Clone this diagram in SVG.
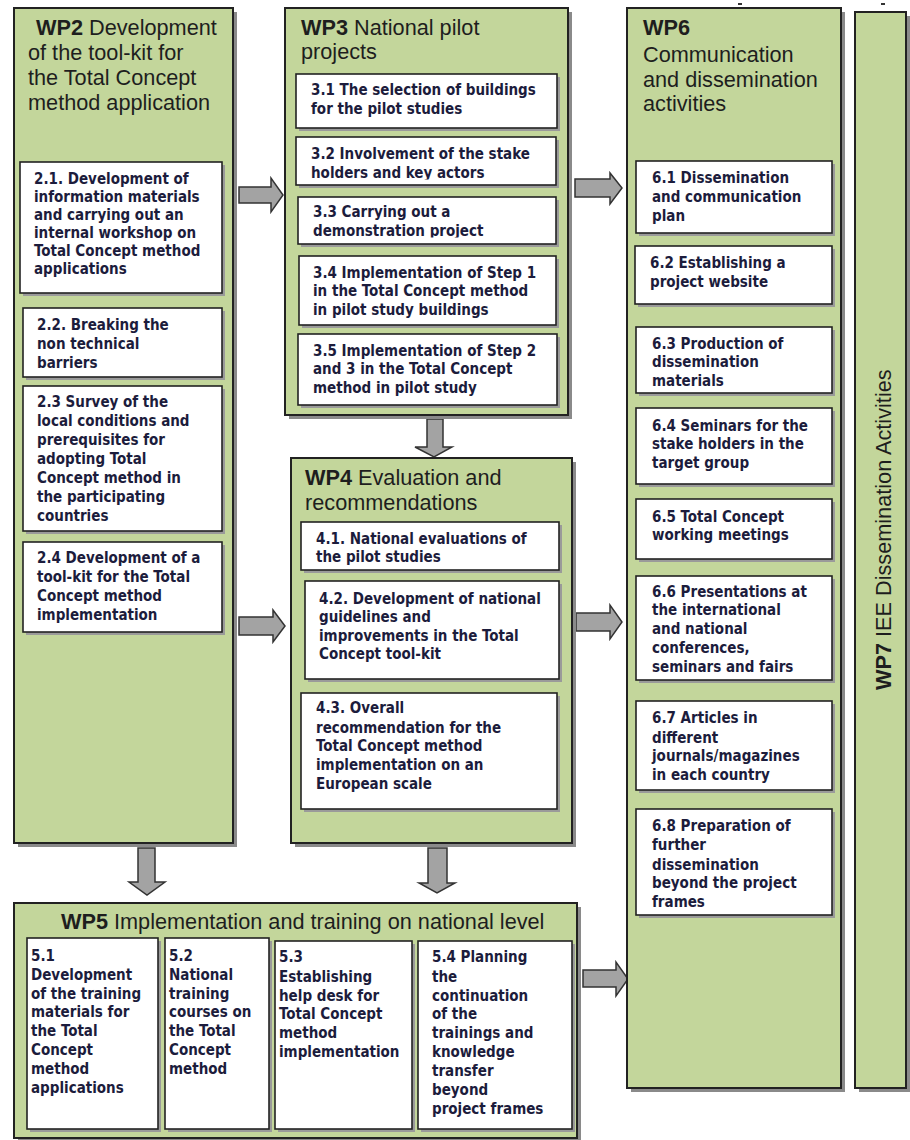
<svg xmlns="http://www.w3.org/2000/svg" width="910" height="1140" viewBox="0 0 910 1140">
<style>
.wp{fill:#c3d69b;stroke:#222;stroke-width:2}
.sh{fill:#8a8a8a}
.bx{fill:#fff;stroke:#222;stroke-width:1.6}
.bsh{fill:#9a9a9a}
.ar{fill:#a3a3a3;stroke:#333;stroke-width:1.5;stroke-linejoin:miter}
.t{font-family:"Liberation Sans",Arial,sans-serif;font-size:21.7px;fill:#1e1e1e}
.b{font-weight:bold}
.i{font-family:"DejaVu Sans Condensed","DejaVu Sans",sans-serif;font-stretch:condensed;font-size:15px;font-weight:bold;fill:#1c1c3c}
</style>
<defs>
<clipPath id="c32"><rect x="296" y="137" width="260" height="42.5"/></clipPath>
<clipPath id="c33"><rect x="298" y="197" width="258" height="40.5"/></clipPath>
</defs>
<rect x="738" y="3" width="4" height="2" fill="#333"/>
<rect x="881" y="3" width="4" height="2" fill="#333"/>
<g id="connectors">
<path class="ar" d="M239,187 H271 V178 L283,195 L271,212 V203 H239 Z"/>
<path class="ar" d="M239,617 H273 V610 L285,626 L273,642 V635 H239 Z"/>
<path class="ar" d="M575,179 H610 V173 L622,188 L610,204 V197 H575 Z"/>
<path class="ar" d="M576,613 H610 V605 L622,622 L610,639 V631 H576 Z"/>
<path class="ar" d="M583,970 H616 V962 L628,979 L616,996 V987 H583 Z"/>
<path class="ar" d="M427,419 H443 V447 H452 L434,457 L415,447 H427 Z"/>
<path class="ar" d="M138,848 H155 V882 H165 L147,895 L129,882 H138 Z"/>
<path class="ar" d="M428,848 H447 V883 H455 L437,893 L419,883 H428 Z"/>
</g>
<g id="wp2">
<rect class="sh" x="18" y="12" width="219" height="835"/>
<rect class="wp" x="14" y="8" width="219" height="835"/>
<text class="t"><tspan x="36" y="35"><tspan class="b">WP2</tspan> Development</tspan><tspan x="28" y="60">of the tool-kit for</tspan><tspan x="28" y="85">the Total Concept</tspan><tspan x="28" y="110">method application</tspan></text>
</g>
<g id="b21"><rect class="bsh" x="23" y="165" width="202" height="131"/><rect class="bx" x="20" y="162" width="202" height="131"/>
<text class="i"><tspan x="34" y="184">2.1. Development of</tspan><tspan x="34" y="202">information materials</tspan><tspan x="34" y="220">and carrying out an</tspan><tspan x="34" y="238">internal workshop on</tspan><tspan x="34" y="256">Total Concept method</tspan><tspan x="34" y="274">applications</tspan></text></g>
<g id="b22"><rect class="bsh" x="26" y="311" width="199" height="69"/><rect class="bx" x="23" y="308" width="199" height="69"/>
<text class="i"><tspan x="37" y="330">2.2. Breaking the</tspan><tspan x="37" y="349">non technical</tspan><tspan x="37" y="368">barriers</tspan></text></g>
<g id="b23"><rect class="bsh" x="26" y="389" width="199" height="145"/><rect class="bx" x="23" y="386" width="199" height="145"/>
<text class="i"><tspan x="37" y="407">2.3 Survey of the</tspan><tspan x="37" y="426">local conditions and</tspan><tspan x="37" y="445">prerequisites for</tspan><tspan x="37" y="464">adopting Total</tspan><tspan x="37" y="483">Concept method in</tspan><tspan x="37" y="502">the participating</tspan><tspan x="37" y="521">countries</tspan></text></g>
<g id="b24"><rect class="bsh" x="26" y="545" width="199" height="90"/><rect class="bx" x="23" y="542" width="199" height="90"/>
<text class="i"><tspan x="37" y="563">2.4 Development of a</tspan><tspan x="37" y="582">tool-kit for the Total</tspan><tspan x="37" y="601">Concept method</tspan><tspan x="37" y="620">implementation</tspan></text></g>
<g id="wp3">
<rect class="sh" x="289" y="12" width="283" height="407"/>
<rect class="wp" x="285" y="8" width="283" height="407"/>
<text class="t"><tspan x="301" y="35"><tspan class="b">WP3</tspan> National pilot</tspan><tspan x="301" y="59">projects</tspan></text>
</g>
<g id="b31"><rect class="bsh" x="299" y="77" width="261" height="54"/><rect class="bx" x="296" y="74" width="261" height="54"/>
<text class="i"><tspan x="311" y="95">3.1 The selection of buildings</tspan><tspan x="311" y="114">for the pilot studies</tspan></text></g>
<g id="b32"><rect class="bsh" x="299" y="140" width="260" height="48"/><rect class="bx" x="296" y="137" width="260" height="48"/>
<text class="i" clip-path="url(#c32)"><tspan x="311" y="159">3.2 Involvement of the stake</tspan><tspan x="311" y="178">holders and key actors</tspan></text></g>
<g id="b33"><rect class="bsh" x="301" y="200" width="258" height="47"/><rect class="bx" x="298" y="197" width="258" height="47"/>
<text class="i" clip-path="url(#c33)"><tspan x="313" y="217">3.3 Carrying out a</tspan><tspan x="313" y="236">demonstration project</tspan></text></g>
<g id="b34"><rect class="bsh" x="302" y="259" width="257" height="69"/><rect class="bx" x="299" y="256" width="257" height="69"/>
<text class="i"><tspan x="313" y="278">3.4 Implementation of Step 1</tspan><tspan x="313" y="296">in the Total Concept method</tspan><tspan x="313" y="315">in pilot study buildings</tspan></text></g>
<g id="b35"><rect class="bsh" x="301" y="337" width="259" height="71"/><rect class="bx" x="298" y="334" width="259" height="71"/>
<text class="i"><tspan x="313" y="356">3.5 Implementation of Step 2</tspan><tspan x="313" y="374">and 3 in the Total Concept</tspan><tspan x="313" y="393">method in pilot study</tspan></text></g>
<g id="wp4">
<rect class="sh" x="295" y="462" width="281" height="385"/>
<rect class="wp" x="291" y="458" width="281" height="385"/>
<text class="t"><tspan x="305" y="485"><tspan class="b">WP4</tspan> Evaluation and</tspan><tspan x="305" y="510">recommendations</tspan></text>
</g>
<g id="b41"><rect class="bsh" x="304" y="525" width="258" height="48"/><rect class="bx" x="301" y="522" width="258" height="48"/>
<text class="i"><tspan x="316" y="544">4.1. National evaluations of</tspan><tspan x="316" y="562">the pilot studies</tspan></text></g>
<g id="b42"><rect class="bsh" x="308" y="584" width="254" height="98"/><rect class="bx" x="305" y="581" width="254" height="98"/>
<text class="i"><tspan x="319" y="604">4.2. Development of national</tspan><tspan x="319" y="622">guidelines and</tspan><tspan x="319" y="641">improvements in the Total</tspan><tspan x="319" y="659">Concept tool-kit</tspan></text></g>
<g id="b43"><rect class="bsh" x="304" y="696" width="256" height="116"/><rect class="bx" x="301" y="693" width="256" height="116"/>
<text class="i"><tspan x="316" y="713">4.3. Overall</tspan><tspan x="316" y="733">recommendation for the</tspan><tspan x="316" y="751">Total Concept method</tspan><tspan x="316" y="770">implementation on an</tspan><tspan x="316" y="789">European scale</tspan></text></g>
<g id="wp6">
<rect class="sh" x="631" y="12" width="214" height="1080"/>
<rect class="wp" x="627" y="8" width="214" height="1080"/>
<text class="t"><tspan class="b" x="643" y="35">WP6</tspan><tspan x="643" y="62">Communication</tspan><tspan x="643" y="87">and dissemination</tspan><tspan x="643" y="111">activities</tspan></text>
</g>
<g id="b61"><rect class="bsh" x="639" y="164" width="196" height="72"/><rect class="bx" x="636" y="161" width="196" height="72"/>
<text class="i"><tspan x="652" y="183">6.1 Dissemination</tspan><tspan x="652" y="202">and communication</tspan><tspan x="652" y="221">plan</tspan></text></g>
<g id="b62"><rect class="bsh" x="638" y="249" width="197" height="58"/><rect class="bx" x="635" y="246" width="197" height="58"/>
<text class="i"><tspan x="650" y="268">6.2 Establishing a</tspan><tspan x="650" y="287">project website</tspan></text></g>
<g id="b63"><rect class="bsh" x="639" y="330" width="196" height="66"/><rect class="bx" x="636" y="327" width="196" height="66"/>
<text class="i"><tspan x="652" y="349">6.3 Production of</tspan><tspan x="652" y="367">dissemination</tspan><tspan x="652" y="386">materials</tspan></text></g>
<g id="b64"><rect class="bsh" x="639" y="411" width="196" height="76"/><rect class="bx" x="636" y="408" width="196" height="76"/>
<text class="i"><tspan x="652" y="431">6.4 Seminars for the</tspan><tspan x="652" y="449">stake holders in the</tspan><tspan x="652" y="468">target group</tspan></text></g>
<g id="b65"><rect class="bsh" x="639" y="502" width="196" height="60"/><rect class="bx" x="636" y="499" width="196" height="60"/>
<text class="i"><tspan x="652" y="522">6.5 Total Concept</tspan><tspan x="652" y="540">working meetings</tspan></text></g>
<g id="b66"><rect class="bsh" x="639" y="579" width="196" height="104"/><rect class="bx" x="636" y="576" width="196" height="104"/>
<text class="i"><tspan x="652" y="597">6.6 Presentations at</tspan><tspan x="652" y="615">the international</tspan><tspan x="652" y="634">and national</tspan><tspan x="652" y="653">conferences,</tspan><tspan x="652" y="672">seminars and fairs</tspan></text></g>
<g id="b67"><rect class="bsh" x="639" y="704" width="196" height="89"/><rect class="bx" x="636" y="701" width="196" height="89"/>
<text class="i"><tspan x="652" y="723">6.7 Articles in</tspan><tspan x="652" y="743">different</tspan><tspan x="652" y="761">journals/magazines</tspan><tspan x="652" y="780">in each country</tspan></text></g>
<g id="b68"><rect class="bsh" x="639" y="812" width="196" height="106"/><rect class="bx" x="636" y="809" width="196" height="106"/>
<text class="i"><tspan x="652" y="831">6.8 Preparation of</tspan><tspan x="652" y="850">further</tspan><tspan x="652" y="870">dissemination</tspan><tspan x="652" y="888">beyond the project</tspan><tspan x="652" y="907">frames</tspan></text></g>
<g id="wp7">
<rect class="sh" x="859" y="16" width="51" height="1076"/>
<rect class="wp" x="855" y="12" width="51" height="1076"/>
<text class="t" transform="translate(891,690) rotate(-90)"><tspan class="b">WP7</tspan>  IEE Dissemination Activities</text>
</g>
<g id="wp5">
<rect class="sh" x="18" y="907" width="563" height="235"/>
<rect class="wp" x="14" y="903" width="563" height="235"/>
<text class="t" x="61" y="929"><tspan class="b">WP5</tspan> Implementation and training on national level</text>
</g>
<g id="b51"><rect class="bsh" x="30" y="941" width="131" height="191"/><rect class="bx" x="27" y="938" width="131" height="191"/>
<text class="i"><tspan x="31" y="961">5.1</tspan><tspan x="31" y="980">Development</tspan><tspan x="31" y="999">of the training</tspan><tspan x="31" y="1017">materials for</tspan><tspan x="31" y="1036">the Total</tspan><tspan x="31" y="1055">Concept</tspan><tspan x="31" y="1074">method</tspan><tspan x="31" y="1093">applications</tspan></text></g>
<g id="b52"><rect class="bsh" x="168" y="941" width="104" height="191"/><rect class="bx" x="165" y="938" width="104" height="191"/>
<text class="i"><tspan x="169" y="961">5.2</tspan><tspan x="169" y="980">National</tspan><tspan x="169" y="999">training</tspan><tspan x="169" y="1017">courses on</tspan><tspan x="169" y="1036">the Total</tspan><tspan x="169" y="1055">Concept</tspan><tspan x="169" y="1074">method</tspan></text></g>
<g id="b53"><rect class="bsh" x="278" y="944" width="137" height="188"/><rect class="bx" x="275" y="941" width="137" height="188"/>
<text class="i"><tspan x="279" y="962">5.3</tspan><tspan x="279" y="982">Establishing</tspan><tspan x="279" y="1001">help desk for</tspan><tspan x="279" y="1019">Total Concept</tspan><tspan x="279" y="1038">method</tspan><tspan x="279" y="1057">implementation</tspan></text></g>
<g id="b54"><rect class="bsh" x="421" y="944" width="154" height="188"/><rect class="bx" x="418" y="941" width="154" height="188"/>
<text class="i"><tspan x="432" y="962">5.4 Planning</tspan><tspan x="432" y="982">the</tspan><tspan x="432" y="1001">continuation</tspan><tspan x="432" y="1019">of the</tspan><tspan x="432" y="1038">trainings and</tspan><tspan x="432" y="1057">knowledge</tspan><tspan x="432" y="1076">transfer</tspan><tspan x="432" y="1095">beyond</tspan><tspan x="432" y="1114">project frames</tspan></text></g>
</svg>
